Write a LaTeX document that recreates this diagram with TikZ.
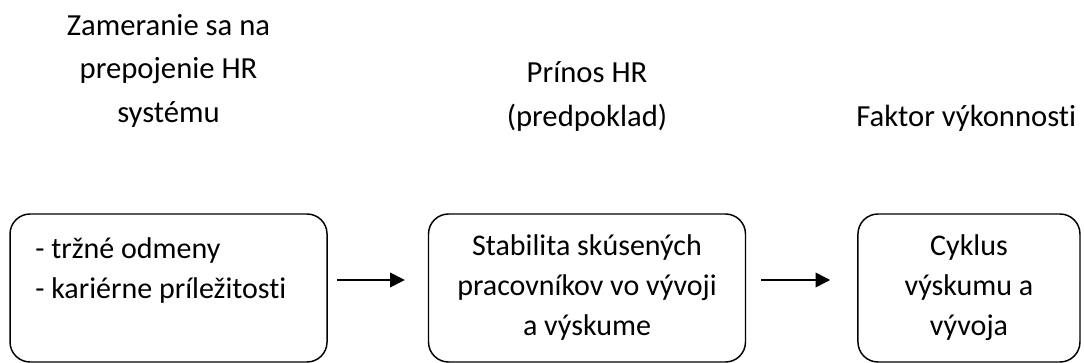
\documentclass[tikz,border=0pt]{standalone}
\usepackage{fontspec}
\setmainfont{Carlito}[Ligatures=NoCommon]
\usepackage{tikz}
\usetikzlibrary{arrows.meta, positioning}
\tikzstyle{block} = [rectangle, rounded corners=15pt, draw=black, line width=1.1pt, minimum height=111pt, text width=199.75pt, inner xsep=19pt, font=\fontsize{22.5}{30}\selectfont]
\tikzstyle{listblock} = [block, align=flush left]
\tikzstyle{midblock} = [block, align=flush center]
\tikzstyle{endblock} = [block, align=flush center, text width=140.5pt, inner xsep=13pt]
\tikzstyle{heading} = [align=flush center, font=\fontsize{23}{32.5}\selectfont]
\tikzstyle{arrow} = [line width=1.1pt, -{Triangle[length=11pt, width=11pt]}]

\begin{document}
\begin{tikzpicture}
\useasboundingbox (0,0) rectangle (813pt,-272.25pt);
\node (box1) [listblock] at (126.4pt,-216pt) {- tržné odmeny\\- kariérne príležitosti\\ \mbox{}};
\node (box2) [midblock, right=75pt of box1] {Stabilita skúsených\\pracovníkov vo vývoji\\a výskume};
\node (box3) [endblock, right=83.25pt of box2] {Cyklus\\výskumu a\\vývoja};

\node (head1) [heading, above=61pt of box1] {Zameranie sa na\\prepojenie HR\\systému};
\node (head2) [heading, above=58pt of box2] {Prínos HR\\(predpoklad)};
\node (head3) [heading, above=58pt of box3, xshift=-2pt] {Faktor výkonnosti};

\draw [arrow, shorten <=6.75pt, shorten >=17.25pt] ([yshift=6pt]box1.east) -- ([yshift=6pt]box2.west);
\draw [arrow, shorten <=11.25pt, shorten >=20.25pt] ([yshift=6pt]box2.east) -- ([yshift=6pt]box3.west);
\end{tikzpicture}
\end{document}
